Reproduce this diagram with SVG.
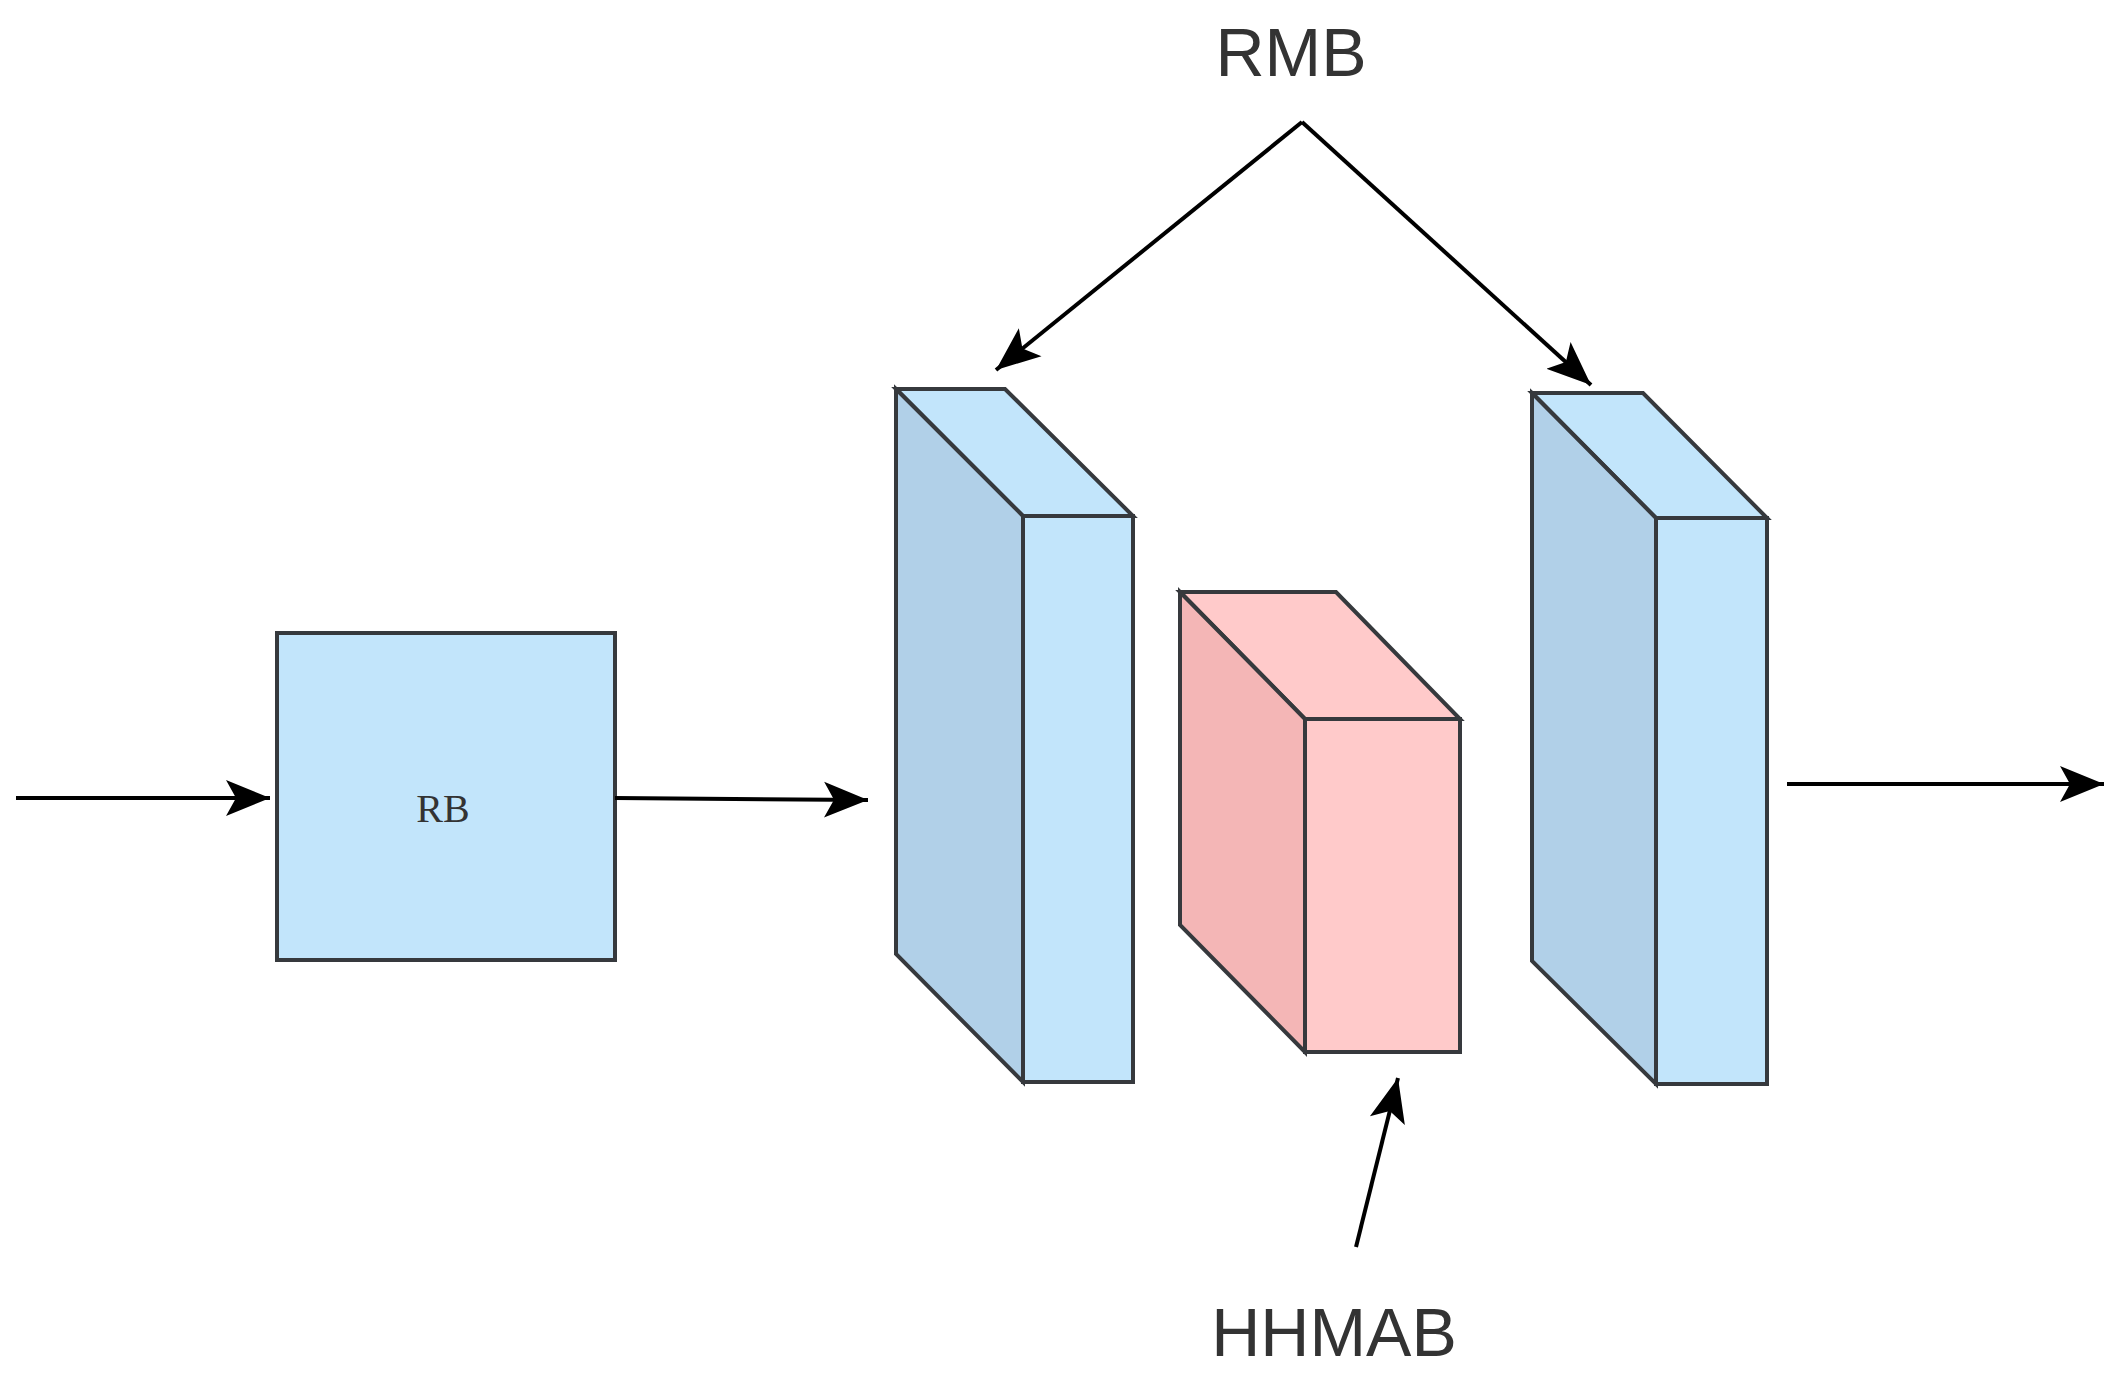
<svg xmlns="http://www.w3.org/2000/svg" width="2120" height="1389" viewBox="0 0 2120 1389">
<style>
.b{fill:#c2e5fb;stroke:#36393d;stroke-width:4}
.bs{fill:#b1d0e8;stroke:#36393d;stroke-width:4}
.p{fill:#ffcaca;stroke:#36393d;stroke-width:4}
.ps{fill:#f4b6b6;stroke:#36393d;stroke-width:4}
.c{stroke:#000;stroke-width:4;fill:none;marker-end:url(#a)}
.t{font-family:"Liberation Sans",Arial,sans-serif;font-size:68px;fill:#333;text-anchor:middle}
</style>
<defs><marker id="a" markerWidth="12" markerHeight="12" refX="10" refY="6" orient="auto" markerUnits="userSpaceOnUse" viewBox="0 0 12 12"><path d="M0,0 L12,6 L0,12 L3,6 Z" fill="#000"/></marker>
<marker id="m" markerWidth="48" markerHeight="40" refX="44" refY="20" orient="auto" markerUnits="userSpaceOnUse"><path d="M0,2 L44,20 L0,38 L10,20 Z" fill="#000"/></marker></defs>
<rect width="2120" height="1389" fill="#fff"/>
<g id="rb"><rect class="b" x="277" y="633" width="338" height="327"/><text x="443" y="822" font-family="Liberation Serif,serif" font-size="40" text-anchor="middle" fill="#333">RB</text></g>
<g id="rmb1"><polygon class="b" points="896,389 1005,389 1133,516 1023,516"/><polygon class="bs" points="896,389 1023,516 1023,1082 896,954"/><rect class="b" x="1023" y="516" width="110" height="566"/></g>
<g id="hhmab"><polygon class="p" points="1180,592 1336,592 1460,719 1305,719"/><polygon class="ps" points="1180,592 1305,719 1305,1052 1180,925"/><rect class="p" x="1305" y="719" width="155" height="333"/></g>
<g id="rmb2"><polygon class="b" points="1532,393 1643,393 1767,518 1656,518"/><polygon class="bs" points="1532,393 1656,518 1656,1084 1532,961"/><rect class="b" x="1656" y="518" width="111" height="566"/></g>
<g id="labels"><text class="t" x="1291" y="76">RMB</text><text class="t" x="1334" y="1356">HHMAB</text></g>
<g id="connectors" stroke="#000" stroke-width="4" fill="none">
<line x1="16" y1="798" x2="270" y2="798" marker-end="url(#m)"/>
<line x1="615" y1="798" x2="868" y2="800" marker-end="url(#m)"/>
<line x1="1787" y1="784" x2="2104" y2="784" marker-end="url(#m)"/>
<line x1="1302" y1="122" x2="996" y2="370" marker-end="url(#m)"/>
<line x1="1302" y1="122" x2="1591" y2="385" marker-end="url(#m)"/>
<line x1="1356" y1="1247" x2="1398" y2="1078" marker-end="url(#m)"/>
</g>
</svg>
